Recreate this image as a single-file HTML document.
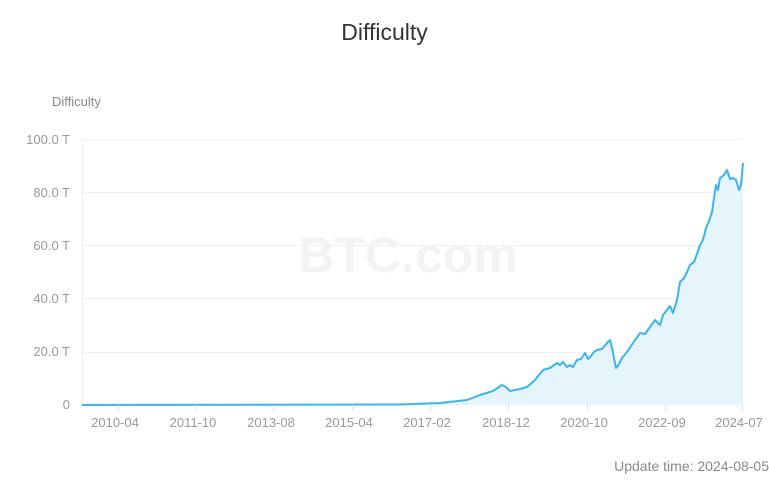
<!DOCTYPE html>
<html><head><meta charset="utf-8"><style>
body{margin:0;background:#fff;font-family:"Liberation Sans",sans-serif;}
</style></head><body>
<svg width="769" height="477" xmlns="http://www.w3.org/2000/svg" font-family="Liberation Sans, sans-serif">
<text x="384.5" y="40" text-anchor="middle" font-size="23" fill="#333">Difficulty</text>
<text x="52" y="106" font-size="13" fill="#888">Difficulty</text>
<g stroke="#f0f0f0" stroke-width="1">
<line x1="82" y1="139.5" x2="743" y2="139.5"/>
<line x1="82" y1="192.5" x2="743" y2="192.5"/>
<line x1="82" y1="245.5" x2="743" y2="245.5"/>
<line x1="82" y1="298.5" x2="743" y2="298.5"/>
<line x1="82" y1="352.5" x2="743" y2="352.5"/>
<line x1="82.5" y1="139" x2="82.5" y2="405"/>
</g>
<text x="408" y="272" text-anchor="middle" font-size="50" font-weight="bold" fill="#f3f3f3">BTC.com</text>
<g font-size="13" fill="#999" text-anchor="end">
<text x="70" y="144">100.0 T</text>
<text x="70" y="197">80.0 T</text>
<text x="70" y="250">60.0 T</text>
<text x="70" y="303">40.0 T</text>
<text x="70" y="356">20.0 T</text>
<text x="70" y="409">0</text>
</g>
<polygon fill="#e6f4fb" points="82,405 400,404.5 440,403 467,400 480,395 493,391 502,385 506,387 510,391 520,389 527,387 535,380 543,370 550,368 557,363 560,365 563,362 567,367 570,365 573,367 577,360 581,359 585,353 588,359 591,356 594,352 597,350 602,349 607,343 610,340 612,348 614,358 616,368 619,364 622,358 627,352 633,343 636,339 640,333 645,334 650,327 655,320 660,325 663,315 667,310 670,306 673,313 677,300 680,282 684,278 687,272 690,265 694,262 697,254 700,245 703,240 706,228 709,221 712,212 714,198 716,185 718,190 720,178 724,175 727,170 730,179 733,178 736,180 739,190 741,185 743,163 743,405"/>
<polyline fill="none" stroke="#3bb4f2" stroke-width="2" stroke-linejoin="round" points="82,405 400,404.5 440,403 467,400 480,395 493,391 502,385 506,387 510,391 520,389 527,387 535,380 543,370 550,368 557,363 560,365 563,362 567,367 570,365 573,367 577,360 581,359 585,353 588,359 591,356 594,352 597,350 602,349 607,343 610,340 612,348 614,358 616,368 619,364 622,358 627,352 633,343 636,339 640,333 645,334 650,327 655,320 660,325 663,315 667,310 670,306 673,313 677,300 680,282 684,278 687,272 690,265 694,262 697,254 700,245 703,240 706,228 709,221 712,212 714,198 716,185 718,190 720,178 724,175 727,170 730,179 733,178 736,180 739,190 741,185 743,163"/>
<g stroke="#ddd"><line x1="118.5" y1="405" x2="118.5" y2="410"/><line x1="196.5" y1="405" x2="196.5" y2="410"/><line x1="274.5" y1="405" x2="274.5" y2="410"/><line x1="352.5" y1="405" x2="352.5" y2="410"/><line x1="430.5" y1="405" x2="430.5" y2="410"/><line x1="508.5" y1="405" x2="508.5" y2="410"/><line x1="587.5" y1="405" x2="587.5" y2="410"/><line x1="665.5" y1="405" x2="665.5" y2="410"/><line x1="742.5" y1="405" x2="742.5" y2="410"/></g>
<g font-size="13" fill="#999" text-anchor="middle">
<text x="115" y="427">2010-04</text>
<text x="193" y="427">2011-10</text>
<text x="271" y="427">2013-08</text>
<text x="349" y="427">2015-04</text>
<text x="427" y="427">2017-02</text>
<text x="506" y="427">2018-12</text>
<text x="584" y="427">2020-10</text>
<text x="662" y="427">2022-09</text>
<text x="739" y="427">2024-07</text>
</g>
<text x="769" y="471" text-anchor="end" font-size="14" fill="#888">Update time: 2024-08-05 </text>
</svg>
</body></html>
